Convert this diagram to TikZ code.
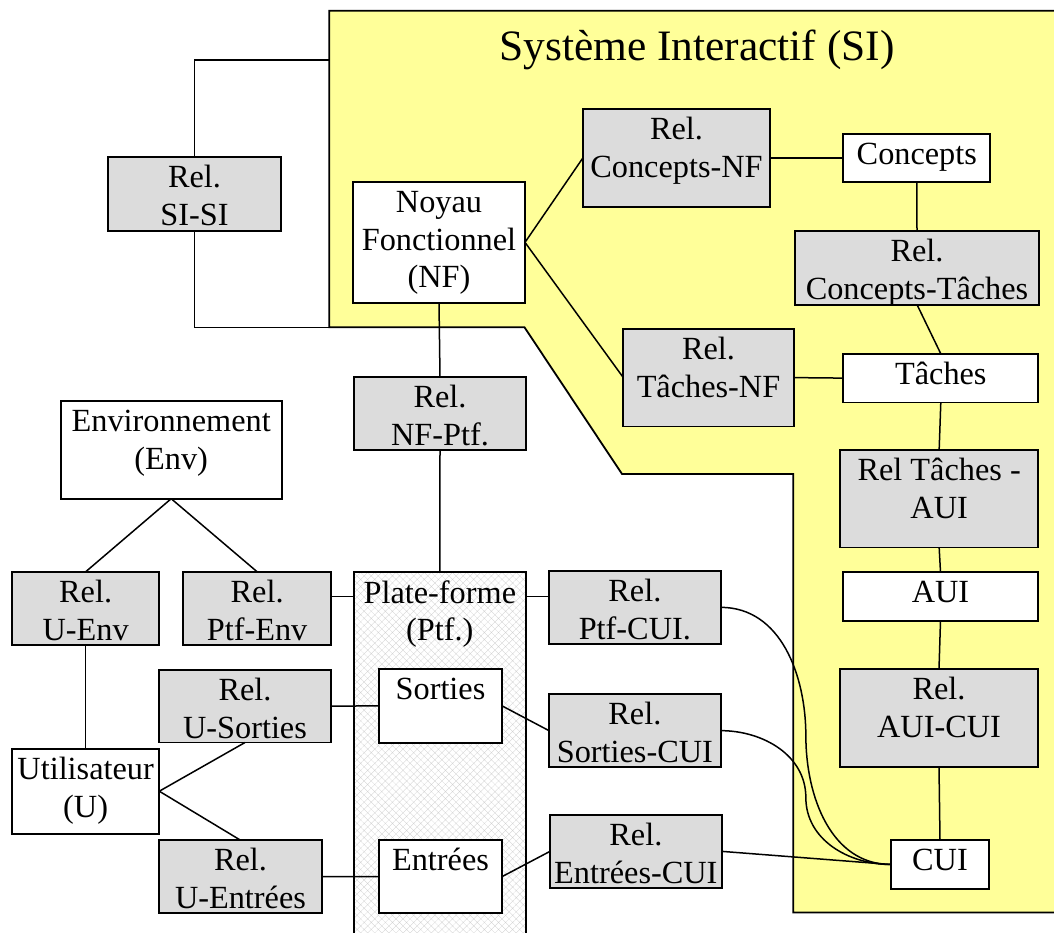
\documentclass[tikz,border=0pt]{standalone}
\usepackage{fontspec}
\setmainfont{Liberation Serif}
\usetikzlibrary{patterns.meta,calc}
\definecolor{siyellow}{RGB}{255,255,153}
\definecolor{relgray}{RGB}{220,220,220}
\newcommand{\boxtext}[3]{\parbox[t][#2pt][t]{#1pt}{\centering\rule{0pt}{30.7pt}#3\par}}
\begin{document}
\begin{tikzpicture}[x=1pt,y=1pt,
  basebox/.style={draw, line width=1.8pt, inner sep=0pt, outer sep=0pt, anchor=north west,
    font=\fontsize{32.3}{37.8}\selectfont},
  relbox/.style={basebox, fill=relgray},
  objbox/.style={basebox, fill=white},
  ptfbox/.style={basebox, pattern={Hatch[angle=45,distance=5pt,line width=0.3pt]}, pattern color=gray!35},
  link/.style={line width=1.5pt},
  sizone/.style={draw, line width=1.8pt, fill=siyellow}]
\useasboundingbox (0,0) rectangle (1054,-933);

% Systeme Interactif zone
\draw[sizone] (329.3,-10.7) -- (1070,-10.7) -- (1070,-912.5) -- (793.3,-912.5)
  -- (793.3,-474) -- (622,-474) -- (524.5,-327.3) -- (329.3,-327.3) -- cycle;
\node[font=\fontsize{43.4}{50}\selectfont, anchor=base] (sititle) at (697,-61) {Système Interactif (SI)};
\coordinate (sitop) at (329.3,-60);
\coordinate (sibot) at (329.3,-327.3);

% boxes
\node[relbox] (sisi) at (108.3,-156.7) {\boxtext{172.4}{74}{Rel.\\SI-SI}};
\node[objbox] (nf) at (353,-181.7) {\boxtext{172}{121.3}{Noyau\\Fonctionnel\\(NF)}};
\node[relbox] (relcnf) at (582.7,-109.3) {\boxtext{187.6}{97.8}{Rel.\\Concepts-NF}};
\node[objbox] (concepts) at (843.3,-134.1) {\boxtext{147}{48.2}{Concepts}};
\node[relbox] (relct) at (794.7,-231.2) {\boxtext{244.6}{73.4}{Rel.\\Concepts-Tâches}};
\node[relbox] (reltnf) at (623.3,-328.7) {\boxtext{170.4}{97.8}{Rel.\\Tâches-NF}};
\node[objbox] (taches) at (843.3,-353.8) {\boxtext{195}{48.6}{Tâches}};
\node[relbox] (reltaui) at (840,-449.9) {\boxtext{198.3}{97.5}{Rel Tâches -\\AUI}};
\node[objbox] (aui) at (842.7,-572.1) {\boxtext{195.6}{48.6}{AUI}};
\node[relbox] (relauicui) at (840,-669) {\boxtext{198}{98}{Rel.\\AUI-CUI}};
\node[objbox] (cui) at (891,-840) {\boxtext{98}{49}{CUI}};
\node[relbox] (relnfptf) at (354,-376.7) {\boxtext{172}{73.3}{Rel.\\NF-Ptf.}};
\node[objbox] (env) at (60.7,-401.1) {\boxtext{221}{97.6}{Environnement\\(Env)}};
\node[relbox] (reluenv) at (12,-571.8) {\boxtext{147.3}{73.4}{Rel.\\U-Env}};
\node[relbox] (relptfenv) at (183.3,-571.8) {\boxtext{147.7}{73.4}{Rel.\\Ptf-Env}};
\node[relbox] (relusorties) at (159,-669.8) {\boxtext{172}{72.7}{Rel.\\U-Sorties}};
\node[objbox] (util) at (12,-748.8) {\boxtext{147.3}{84.8}{Utilisateur\\(U)}};
\node[relbox] (reluentrees) at (158.7,-840.2) {\boxtext{163.6}{72.7}{Rel.\\U-Entrées}};
\node[ptfbox] (ptf) at (354,-572.3) {\boxtext{171.7}{400}{Plate-forme\\(Ptf.)}};
\node[objbox] (sorties) at (379,-669) {\boxtext{123}{73.7}{Sorties}};
\node[objbox] (entrees) at (379,-840) {\boxtext{123}{73.3}{Entrées}};
\node[relbox] (relptfcui) at (549,-570.7) {\boxtext{171.7}{73.3}{Rel.\\Ptf-CUI.}};
\node[relbox] (relsortiescui) at (549,-694) {\boxtext{171.7}{73.3}{Rel.\\Sorties-CUI}};
\node[relbox] (relentreescui) at (550,-814.7) {\boxtext{171.7}{73.3}{Rel.\\Entrées-CUI}};

% connectors
\draw[link] (sisi.north) |- (sitop);
\draw[link] (sisi.south) |- (sibot);
\draw[link] (nf.east) -- (relcnf.west);
\draw[link] (nf.east) -- (reltnf.west);
\draw[link] (relcnf.east) -- (concepts.west);
\draw[link] (concepts.south) -- (relct.north);
\draw[link] (relct.south) -- (taches.north);
\draw[link] (reltnf.east) -- (taches.west);
\draw[link] (taches.south) -- (reltaui.north);
\draw[link] (reltaui.south) -- (aui.north);
\draw[link] (aui.south) -- (relauicui.north);
\draw[link] (relauicui.south) -- (cui.north);
\draw[link] (nf.south) -- (relnfptf.north);
\draw[link] (relnfptf.south) -- (ptf.north);
\draw[link] (env.south) -- (reluenv.north);
\draw[link] (env.south) -- (relptfenv.north);
\draw[link] (reluenv.south) -- (util.north);
\draw[link] (util.east) -- (relusorties.south);
\draw[link] (util.east) -- (reluentrees.north);
\draw[link] (relusorties.east) -- (sorties.west);
\draw[link] (reluentrees.east) -- (entrees.west);
\coordinate (ptfrow) at (0,-596.3);
\draw[link] (relptfenv.east |- ptfrow) -- (ptf.west |- ptfrow);
\draw[link] (ptf.east |- ptfrow) -- (relptfcui.west |- ptfrow);
\draw[link] (sorties.east) -- (relsortiescui.west);
\draw[link] (entrees.east) -- (relentreescui.west);
\coordinate (m1) at ($(relptfcui.east)!0.5!(cui.west)$);
\coordinate (m2) at ($(relsortiescui.east)!0.5!(cui.west)$);
\draw[link] (relptfcui.east) to[out=0,in=90] (m1) to[out=-90,in=180] (cui.west);
\draw[link] (relsortiescui.east) to[out=0,in=90] (m2) to[out=-90,in=180] (cui.west);
\draw[link] (relentreescui.east) -- (cui.west);
\end{tikzpicture}
\end{document}
